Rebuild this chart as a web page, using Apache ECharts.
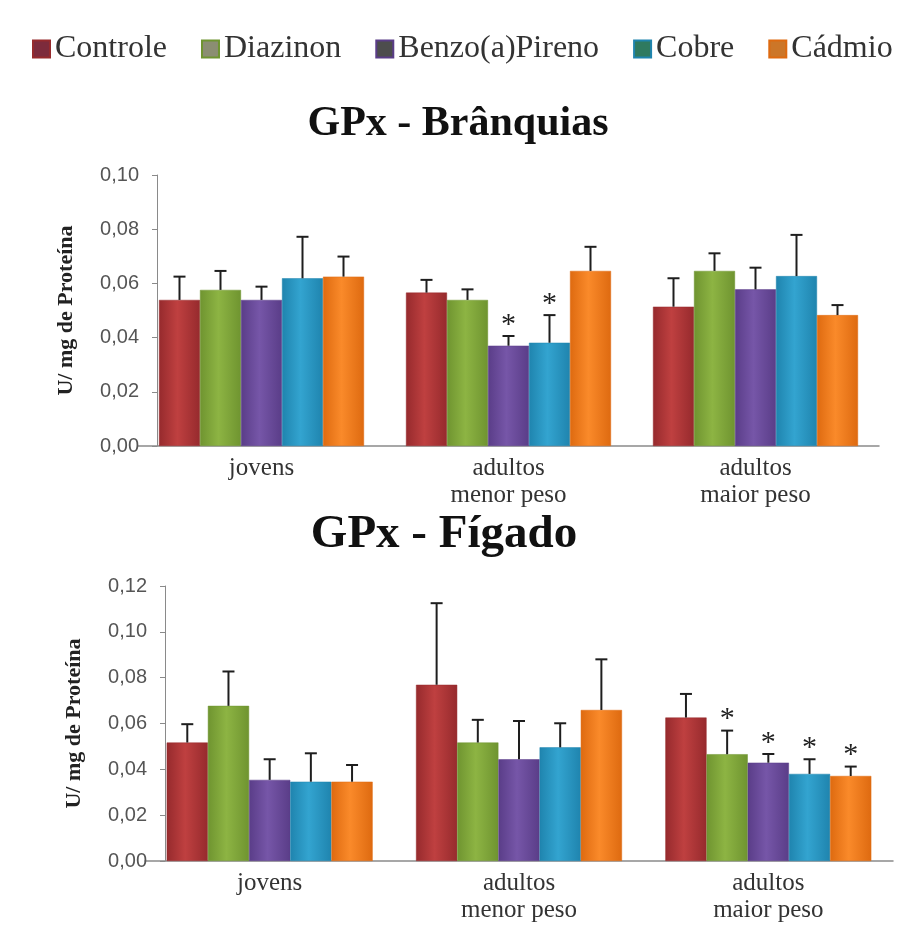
<!DOCTYPE html>
<html>
<head>
<meta charset="utf-8">
<script src="https://cdn.jsdelivr.net/npm/echarts@6/dist/echarts.min.js"></script>
<style>
html,body{margin:0;padding:0;background:#fff;}
#c{width:902px;height:925px;}
</style>
</head>
<body>
<div id="c"></div>
<script>
// ---- data ----
const categories = ['jovens', 'adultos\nmenor peso', 'adultos\nmaior peso'];
const seriesNames = ['Controle', 'Diazinon', 'Benzo(a)Pireno', 'Cobre', 'Cádmio'];

// GPx - Brânquias (mean)
const branqControle = [0.0539, 0.0566, 0.0514];
const branqDiazinon = [0.0576, 0.0539, 0.0646];
const branqBenzo    = [0.0539, 0.0370, 0.0578];
const branqCobre    = [0.0619, 0.0381, 0.0627];
const branqCadmio   = [0.0625, 0.0646, 0.0483];
// GPx - Brânquias (SD)
const branqControleSD = [0.0086, 0.0047, 0.0105];
const branqDiazinonSD = [0.0070, 0.0039, 0.0065];
const branqBenzoSD    = [0.0049, 0.0036, 0.0080];
const branqCobreSD    = [0.0153, 0.0102, 0.0152];
const branqCadmioSD   = [0.0074, 0.0089, 0.0037];
// significance (*)
const branqControleSig = [0, 0, 0];
const branqDiazinonSig = [0, 0, 0];
const branqBenzoSig    = [0, 1, 0];
const branqCobreSig    = [0, 1, 0];
const branqCadmioSig   = [0, 0, 0];

// GPx - Fígado (mean)
const figControle = [0.0517, 0.0769, 0.0626];
const figDiazinon = [0.0677, 0.0517, 0.0466];
const figBenzo    = [0.0354, 0.0444, 0.0429];
const figCobre    = [0.0346, 0.0496, 0.0380];
const figCadmio   = [0.0346, 0.0659, 0.0371];
// GPx - Fígado (SD)
const figControleSD = [0.0080, 0.0356, 0.0103];
const figDiazinonSD = [0.0150, 0.0099, 0.0103];
const figBenzoSD    = [0.0090, 0.0167, 0.0038];
const figCobreSD    = [0.0124, 0.0105, 0.0064];
const figCadmioSD   = [0.0073, 0.0221, 0.0041];
const figControleSig = [0, 0, 0];
const figDiazinonSig = [0, 0, 1];
const figBenzoSig    = [0, 0, 1];
const figCobreSig    = [0, 0, 1];
const figCadmioSig   = [0, 0, 1];

const yTicksTop = ['0,00', '0,02', '0,04', '0,06', '0,08', '0,10'];
const yTicksBottom = ['0,00', '0,02', '0,04', '0,06', '0,08', '0,10', '0,12'];

// ---- styles ----
const barColors = [
  ['#962a2d', '#bf4040'],
  ['#6f9430', '#8db443'],
  ['#5a3d88', '#7656a8'],
  ['#1f84ae', '#33a4d0'],
  ['#de6a10', '#fa8a2a']
];
const legendColors = ['#7d2b3c', '#8b8e72', '#4d4d4d', '#2f7a60', '#cc7628'];
const GAP_TOP = 0.17, GAP_BOT = 0.174;

const branqMeans = [branqControle, branqDiazinon, branqBenzo, branqCobre, branqCadmio];
const branqSDs = [branqControleSD, branqDiazinonSD, branqBenzoSD, branqCobreSD, branqCadmioSD];
const branqSigs = [branqControleSig, branqDiazinonSig, branqBenzoSig, branqCobreSig, branqCadmioSig];
const figMeans = [figControle, figDiazinon, figBenzo, figCobre, figCadmio];
const figSDs = [figControleSD, figDiazinonSD, figBenzoSD, figCobreSD, figCadmioSD];
const figSigs = [figControleSig, figDiazinonSig, figBenzoSig, figCobreSig, figCadmioSig];

function grad(i) {
  const c = barColors[i];
  return new echarts.graphic.LinearGradient(0, 0, 1, 0, [
    {offset: 0, color: c[0]}, {offset: 0.45, color: c[1]}, {offset: 1, color: c[0]}
  ]);
}

function barSeries(means, axisIdx, gap) {
  return means.map((arr, i) => ({
    name: seriesNames[i], type: 'bar',
    xAxisIndex: axisIdx, yAxisIndex: axisIdx,
    data: arr, barGap: '0%', barCategoryGap: (gap * 100) + '%',
    itemStyle: {color: grad(i), borderColor: barColors[i][0], borderWidth: 0.5},
    emphasis: {disabled: true}, z: 2
  }));
}

function errSeries(means, sds, sigs, axisIdx, gap) {
  const data = [];
  means.forEach((arr, s) => arr.forEach((v, c) => data.push([c, s, v, sds[s][c], sigs[s][c]])));
  return {
    type: 'custom', name: 'err' + axisIdx, xAxisIndex: axisIdx, yAxisIndex: axisIdx,
    data: data, encode: {x: 0, y: 2}, z: 5, clip: false, silent: true,
    renderItem: function (params, api) {
      const c = api.value(0), s = api.value(1), v = api.value(2), sd = api.value(3), sig = api.value(4);
      const band = api.size([1, 0])[0];
      const bw = band * (1 - gap) / 5;
      const cx = api.coord([c, 0])[0] + (s - 2) * bw;
      const yb = api.coord([c, v])[1];
      const yt = api.coord([c, v + sd])[1];
      const st = {stroke: '#1e1e1e', lineWidth: 2};
      const children = [
        {type: 'line', shape: {x1: cx, y1: yb, x2: cx, y2: yt}, style: st},
        {type: 'line', shape: {x1: cx - 6, y1: yt, x2: cx + 6, y2: yt}, style: st}
      ];
      if (sig) {
        children.push({type: 'text', style: {text: '*', x: cx, y: yt - 11, align: 'center', verticalAlign: 'middle',
          fontSize: 30, fontFamily: 'Liberation Serif', fill: '#222'}});
      }
      return {type: 'group', children: children};
    }
  };
}

const axisLabelX = {fontFamily: 'Liberation Serif', fontSize: 25, color: '#333', lineHeight: 27, margin: 9};
const axisNameStyle = {fontFamily: 'Liberation Serif', fontWeight: 'bold', fontSize: 22, color: '#222'};

const option = {
  backgroundColor: '#fff',
  animation: false,
  title: [
    {text: 'GPx - Brânquias', left: 453, top: 98, textAlign: 'center',
     textStyle: {fontFamily: 'Liberation Serif', fontWeight: 'bold', fontSize: 42, color: '#111'}},
    {text: 'GPx - Fígado', left: 439, top: 506, textAlign: 'center',
     textStyle: {fontFamily: 'Liberation Serif', fontWeight: 'bold', fontSize: 47, color: '#111'}}
  ],
  legend: {
    left: 27, top: 28, itemWidth: 17, itemHeight: 17, itemGap: 34, icon: 'rect',
    textStyle: {fontFamily: 'Liberation Serif', fontSize: 32, color: '#333'},
    data: seriesNames.map((n, i) => ({name: n, itemStyle: {color: legendColors[i]}}))
  },
  grid: [
    {left: 138, top: 175, width: 741, height: 271},
    {left: 145, top: 586, width: 748, height: 275}
  ],
  xAxis: [
    {type: 'category', gridIndex: 0, data: categories, axisTick: {show: false},
     axisLine: {lineStyle: {color: '#8a8a8a', width: 1.5}}, axisLabel: axisLabelX},
    {type: 'category', gridIndex: 1, data: categories, axisTick: {show: false},
     axisLine: {lineStyle: {color: '#8a8a8a', width: 1.5}}, axisLabel: axisLabelX}
  ],
  yAxis: [
    {type: 'value', gridIndex: 0, min: 0, max: 0.10, interval: 0.02, offset: -19,
     name: 'U/ mg de Proteína', nameLocation: 'middle', nameGap: 80, nameTextStyle: axisNameStyle,
     axisLine: {show: true, lineStyle: {color: '#8a8a8a'}}, axisTick: {show: true, length: 5, lineStyle: {color: '#8a8a8a'}},
     splitLine: {show: false},
     axisLabel: {margin: 18, fontFamily: 'Liberation Sans', fontSize: 20, color: '#555',
       formatter: v => yTicksTop[Math.round(v / 0.02)]}},
    {type: 'value', gridIndex: 1, min: 0, max: 0.12, interval: 0.02, offset: -20,
     name: 'U/ mg de Proteína', nameLocation: 'middle', nameGap: 80, nameTextStyle: axisNameStyle,
     axisLine: {show: true, lineStyle: {color: '#8a8a8a'}}, axisTick: {show: true, length: 5, lineStyle: {color: '#8a8a8a'}},
     splitLine: {show: false},
     axisLabel: {margin: 18, fontFamily: 'Liberation Sans', fontSize: 20, color: '#555',
       formatter: v => yTicksBottom[Math.round(v / 0.02)]}}
  ],
  series: [].concat(
    barSeries(branqMeans, 0, GAP_TOP),
    [errSeries(branqMeans, branqSDs, branqSigs, 0, GAP_TOP)],
    barSeries(figMeans, 1, GAP_BOT),
    [errSeries(figMeans, figSDs, figSigs, 1, GAP_BOT)]
  )
};

const chart = echarts.init(document.getElementById('c'), null, {renderer: 'canvas'});
chart.setOption(option);
</script>
</body>
</html>
